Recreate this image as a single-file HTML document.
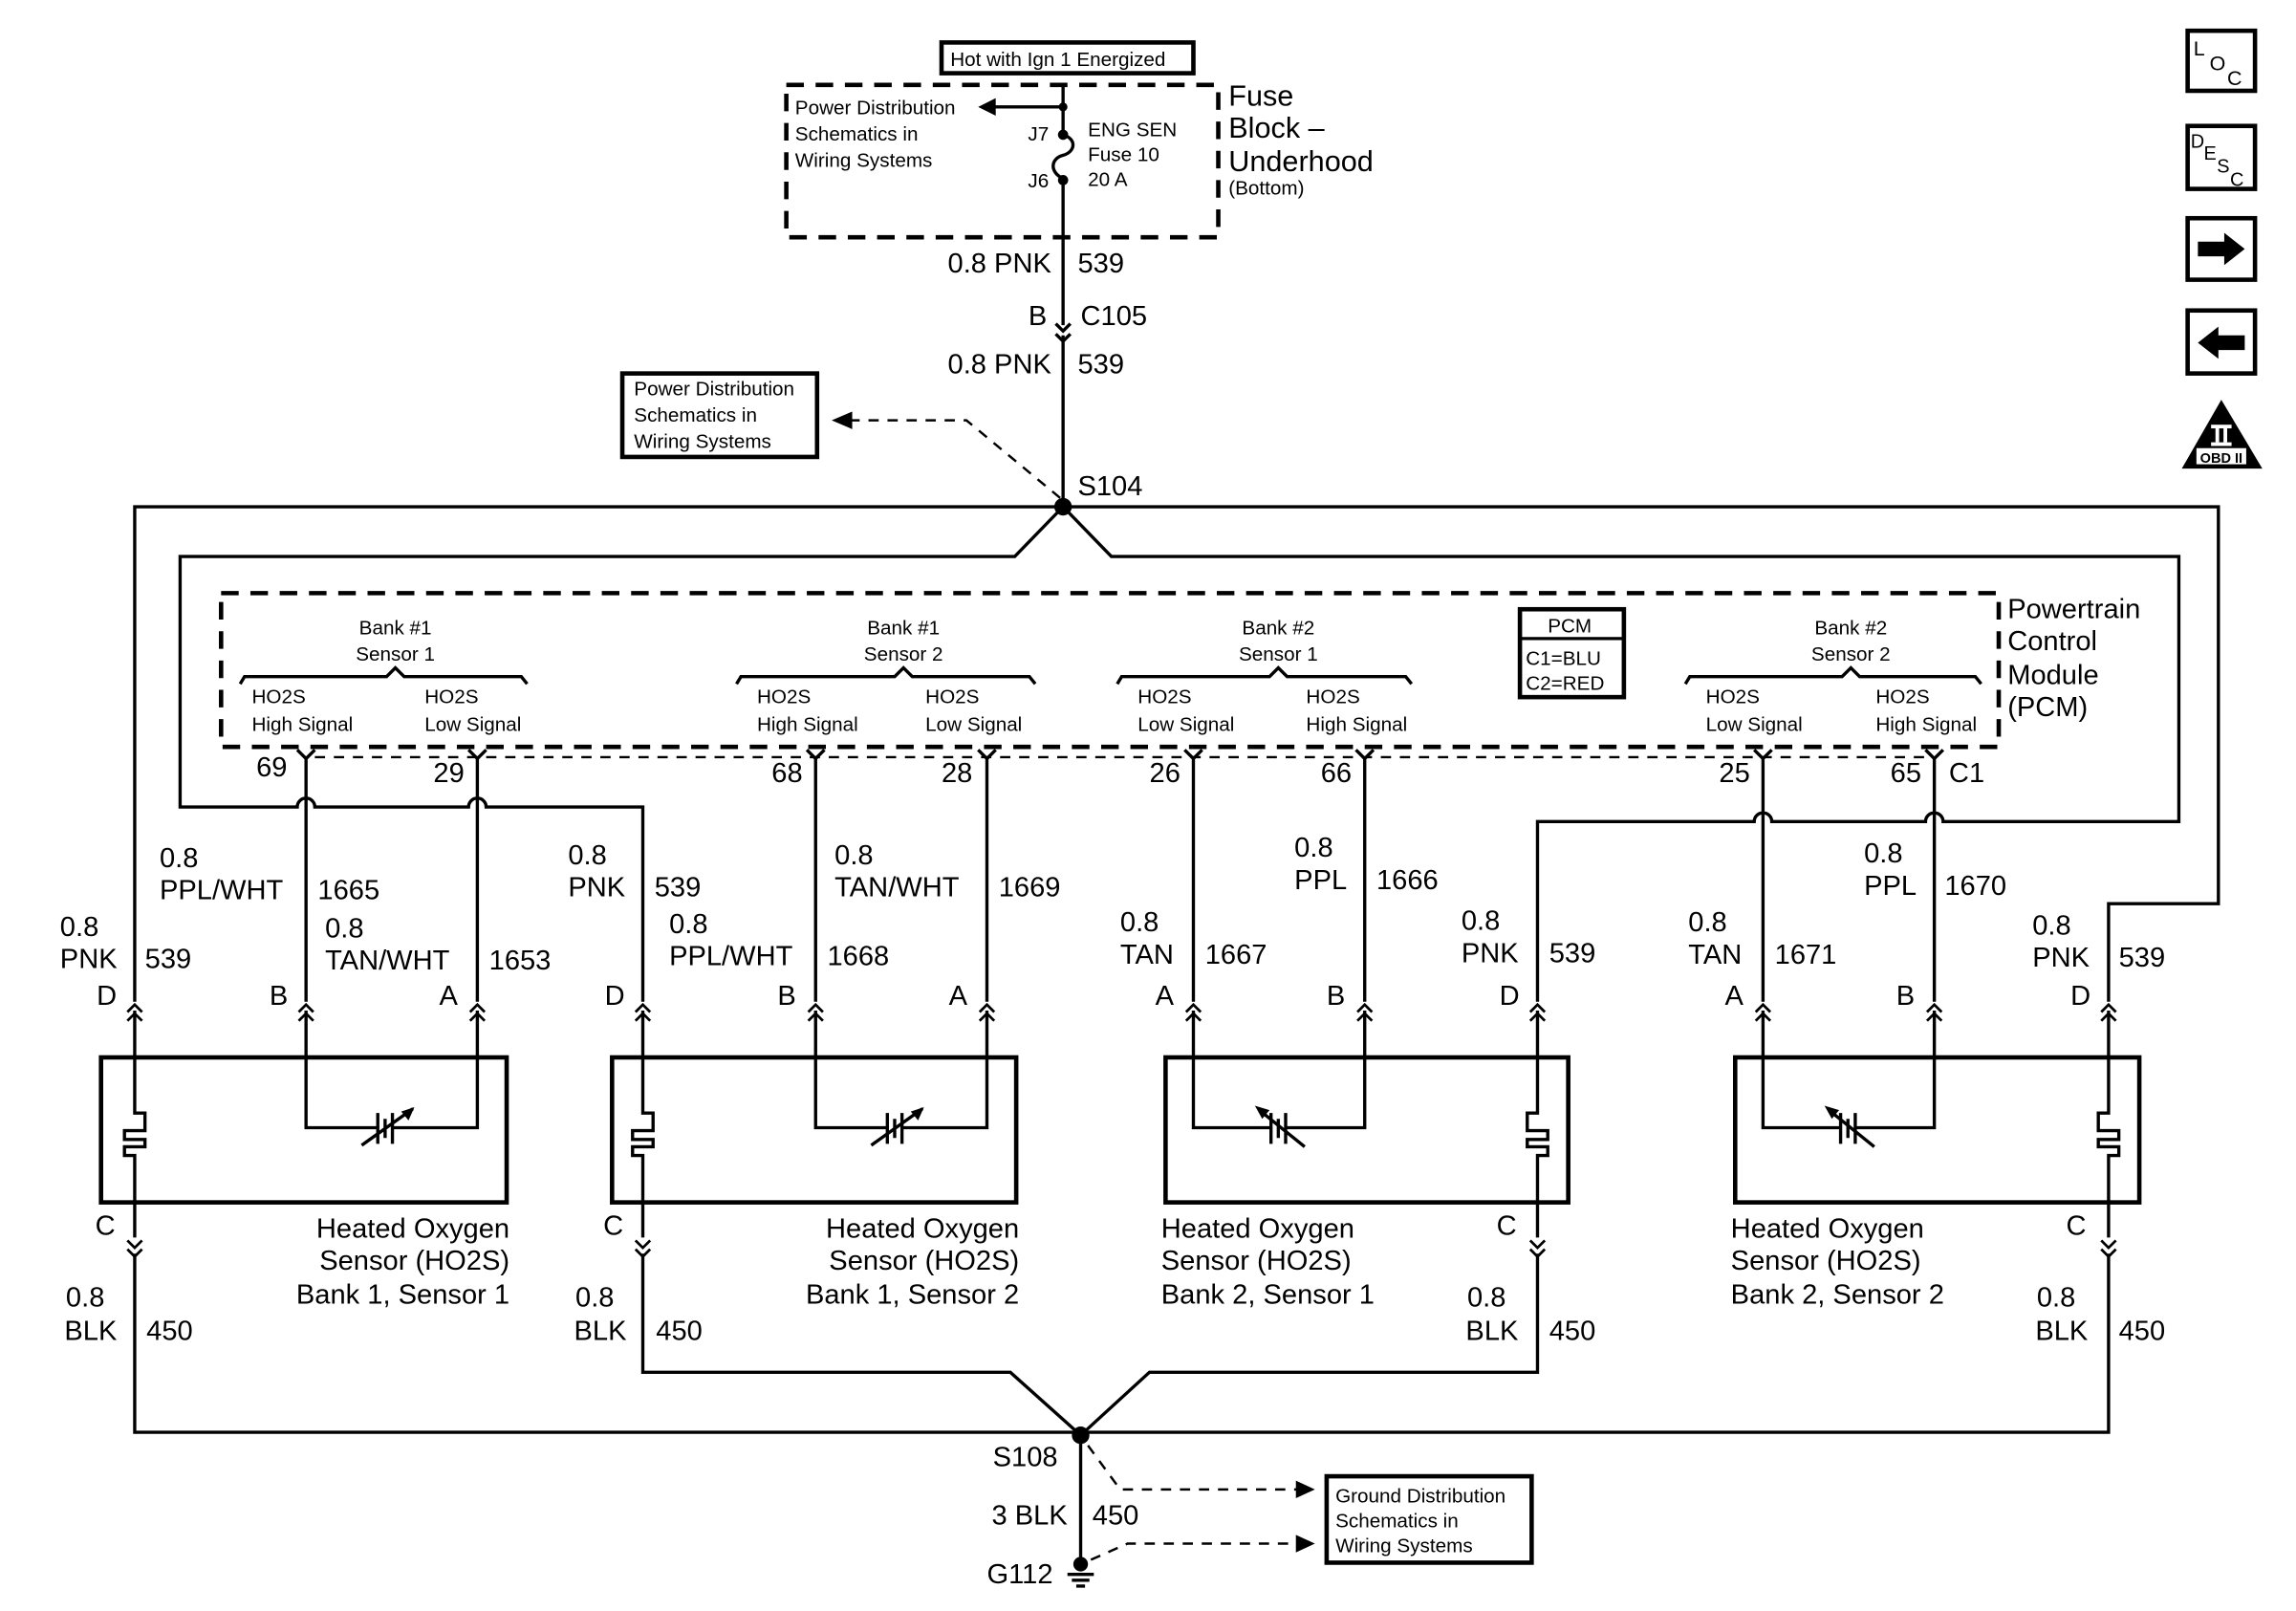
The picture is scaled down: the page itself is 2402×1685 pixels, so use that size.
<!DOCTYPE html>
<html><head><meta charset="utf-8"><style>
html,body{margin:0;padding:0;background:#fff;width:2402px;height:1685px;overflow:hidden}
svg{display:block}
text{font-family:"Liberation Sans",Arial,sans-serif;fill:#000}
.w{fill:none;stroke:#000;stroke-width:2.2}
.b{fill:none;stroke:#000;stroke-width:3}
.d{fill:none;stroke:#000;stroke-width:3;stroke-dasharray:12 8}
.dt{fill:none;stroke:#000;stroke-width:1.6;stroke-dasharray:7 6}
.l{font-size:19px}
.s{font-size:13.5px}
</style></head><body>
<svg width="2402" height="1685" viewBox="0 0 1568 1100" preserveAspectRatio="none" xmlns="http://www.w3.org/2000/svg">
<defs>
<symbol id="up" viewBox="-8 -2 16 20" width="16" height="20" overflow="visible"><path d="M-5,5 L0,0 L5,5 M-5,11 L0,6 L5,11" fill="none" stroke="#000" stroke-width="1.8"/></symbol>
<symbol id="dn" viewBox="-8 -2 16 20" width="16" height="20" overflow="visible"><path d="M-5,0 L0,5 L5,0 M-5,6 L0,11 L5,6" fill="none" stroke="#000" stroke-width="1.8"/></symbol>
</defs>

<!-- top -->
<rect x="643" y="29" width="172" height="21" class="b" stroke-width="2.5"/>
<text x="649" y="45" class="s">Hot with Ign 1 Energized</text>
<rect x="537" y="58" width="295" height="104" class="d"/>
<text x="543" y="78" class="s">Power Distribution</text>
<text x="543" y="96" class="s">Schematics in</text>
<text x="543" y="114" class="s">Wiring Systems</text>
<line x1="726" y1="73" x2="676" y2="73" class="w"/>
<path d="M668,73 L680,67 L680,79 Z"/>
<circle cx="726" cy="73" r="3"/>
<line x1="726" y1="57" x2="726" y2="92" class="w"/>
<circle cx="726" cy="92" r="3.5"/>
<path d="M726,92 C736,95 734,104 726,106 C718,108 716,117 726,122" class="w"/>
<circle cx="726" cy="123" r="3.5"/>
<line x1="726" y1="123" x2="726" y2="222" class="w"/>
<line x1="726" y1="229" x2="726" y2="346" class="w"/>
<path d="M721,221 L726,226 L731,221 M721,228 L726,233 L731,228" class="w" stroke-width="1.8"/>
<text x="702" y="96" class="s">J7</text>
<text x="702" y="128" class="s">J6</text>
<text x="743" y="93" class="s">ENG SEN</text>
<text x="743" y="110" class="s">Fuse 10</text>
<text x="743" y="127" class="s">20 A</text>
<text x="839" y="72" style="font-size:20px">Fuse</text>
<text x="839" y="94" style="font-size:20px">Block –</text>
<text x="839" y="117" style="font-size:20px">Underhood</text>
<text x="839" y="133" class="s">(Bottom)</text>
<text x="718" y="186" class="l" text-anchor="end">0.8 PNK</text>
<text x="736" y="186" class="l">539</text>
<text x="715" y="222" class="l" text-anchor="end">B</text>
<text x="738" y="222" class="l">C105</text>
<text x="718" y="255" class="l" text-anchor="end">0.8 PNK</text>
<text x="736" y="255" class="l">539</text>

<rect x="425" y="255" width="133" height="57" class="b" stroke-width="2.5"/>
<text x="433" y="270" class="s">Power Distribution</text>
<text x="433" y="288" class="s">Schematics in</text>
<text x="433" y="306" class="s">Wiring Systems</text>
<path d="M724,340 L660,287 L580,287" class="dt"/>
<path d="M568,287 L582,281 L582,293 Z"/>
<text x="736" y="338" class="l">S104</text>
<circle cx="726" cy="346" r="6"/>

<!-- outer loop -->
<path d="M92,684 L92,346 L1515,346 L1515,617 L1440,617 L1440,684" class="w"/>
<!-- inner loop -->
<path d="M439,684 L439,551 L332,551 A6,6 0 0 0 320,551 L215,551 A6,6 0 0 0 203,551 L123,551 L123,380 L693,380 L726,346 L759,380 L1488,380 L1488,561 L1327,561 A6,6 0 0 0 1315,561 L1210,561 A6,6 0 0 0 1198,561 L1050,561 L1050,684" class="w"/>

<!-- PCM -->
<rect x="151" y="405" width="1214" height="105" class="d"/>
<line x1="215" y1="517" x2="1318" y2="517" class="dt"/>
<text x="1371" y="422" class="l">Powertrain</text>
<text x="1371" y="444" class="l">Control</text>
<text x="1371" y="467" class="l">Module</text>
<text x="1371" y="489" class="l">(PCM)</text>
<rect x="1038" y="416" width="71" height="60" class="b" stroke-width="2.5"/>
<line x1="1038" y1="436" x2="1109" y2="436" class="w"/>
<text x="1057" y="432" class="s">PCM</text>
<text x="1042" y="454" class="s">C1=BLU</text>
<text x="1042" y="471" class="s">C2=RED</text>

<g class="s">
<text x="270" y="433" text-anchor="middle">Bank #1</text><text x="270" y="451" text-anchor="middle">Sensor 1</text>
<text x="617" y="433" text-anchor="middle">Bank #1</text><text x="617" y="451" text-anchor="middle">Sensor 2</text>
<text x="873" y="433" text-anchor="middle">Bank #2</text><text x="873" y="451" text-anchor="middle">Sensor 1</text>
<text x="1264" y="433" text-anchor="middle">Bank #2</text><text x="1264" y="451" text-anchor="middle">Sensor 2</text>
<text x="172" y="480">HO2S</text><text x="172" y="499">High Signal</text>
<text x="290" y="480">HO2S</text><text x="290" y="499">Low Signal</text>
<text x="517" y="480">HO2S</text><text x="517" y="499">High Signal</text>
<text x="632" y="480">HO2S</text><text x="632" y="499">Low Signal</text>
<text x="777" y="480">HO2S</text><text x="777" y="499">Low Signal</text>
<text x="892" y="480">HO2S</text><text x="892" y="499">High Signal</text>
<text x="1165" y="480">HO2S</text><text x="1165" y="499">Low Signal</text>
<text x="1281" y="480">HO2S</text><text x="1281" y="499">High Signal</text>
</g>
<path d="M164,467 L167,462 L264,462 L270,456 L276,462 L356,462 L360,467" class="w" stroke-width="1.5"/>
<path d="M503,467 L506,462 L611,462 L617,456 L623,462 L703,462 L707,467" class="w" stroke-width="1.5"/>
<path d="M763,467 L766,462 L867,462 L873,456 L879,462 L960,462 L964,467" class="w" stroke-width="1.5"/>
<path d="M1151,467 L1154,462 L1258,462 L1264,456 L1270,462 L1349,462 L1353,467" class="w" stroke-width="1.5"/>

<!-- pin wires -->
<g class="w">
<path d="M203,512 L209,518 L215,512 M209,518 L209,684"/>
<path d="M320,512 L326,518 L332,512 M326,518 L326,684"/>
<path d="M551,512 L557,518 L563,512 M557,518 L557,684"/>
<path d="M668,512 L674,518 L680,512 M674,518 L674,684"/>
<path d="M809,512 L815,518 L821,512 M815,518 L815,684"/>
<path d="M926,512 L932,518 L938,512 M932,518 L932,684"/>
<path d="M1198,512 L1204,518 L1210,512 M1204,518 L1204,684"/>
<path d="M1315,512 L1321,518 L1327,512 M1321,518 L1321,684"/>
</g>
<g class="l">
<text x="175" y="530">69</text><text x="296" y="534">29</text>
<text x="527" y="534">68</text><text x="643" y="534">28</text>
<text x="785" y="534">26</text><text x="902" y="534">66</text>
<text x="1174" y="534">25</text><text x="1291" y="534">65</text><text x="1331" y="534">C1</text>
</g>

<!-- top connectors -->
<g>
<use href="#up" x="84" y="684"/><use href="#up" x="201" y="684"/><use href="#up" x="318" y="684"/>
<use href="#up" x="431" y="684"/><use href="#up" x="549" y="684"/><use href="#up" x="666" y="684"/>
<use href="#up" x="807" y="684"/><use href="#up" x="924" y="684"/><use href="#up" x="1042" y="684"/>
<use href="#up" x="1196" y="684"/><use href="#up" x="1313" y="684"/><use href="#up" x="1432" y="684"/>
</g>

<!-- wire labels -->
<g class="l">
<text x="41" y="639">0.8</text><text x="41" y="661">PNK</text><text x="99" y="661">539</text><text x="66" y="686">D</text>
<text x="109" y="592">0.8</text><text x="109" y="614">PPL/WHT</text><text x="217" y="614">1665</text><text x="184" y="686">B</text>
<text x="222" y="640">0.8</text><text x="222" y="662">TAN/WHT</text><text x="334" y="662">1653</text><text x="300" y="686">A</text>
<text x="388" y="590">0.8</text><text x="388" y="612">PNK</text><text x="447" y="612">539</text><text x="413" y="686">D</text>
<text x="457" y="637">0.8</text><text x="457" y="659">PPL/WHT</text><text x="565" y="659">1668</text><text x="531" y="686">B</text>
<text x="570" y="590">0.8</text><text x="570" y="612">TAN/WHT</text><text x="682" y="612">1669</text><text x="648" y="686">A</text>
<text x="765" y="636">0.8</text><text x="765" y="658">TAN</text><text x="823" y="658">1667</text><text x="789" y="686">A</text>
<text x="884" y="585">0.8</text><text x="884" y="607">PPL</text><text x="940" y="607">1666</text><text x="906" y="686">B</text>
<text x="998" y="635">0.8</text><text x="998" y="657">PNK</text><text x="1058" y="657">539</text><text x="1024" y="686">D</text>
<text x="1153" y="636">0.8</text><text x="1153" y="658">TAN</text><text x="1212" y="658">1671</text><text x="1178" y="686">A</text>
<text x="1273" y="589">0.8</text><text x="1273" y="611">PPL</text><text x="1328" y="611">1670</text><text x="1295" y="686">B</text>
<text x="1388" y="638">0.8</text><text x="1388" y="660">PNK</text><text x="1447" y="660">539</text><text x="1414" y="686">D</text>
</g>

<!-- sensor boxes -->
<rect x="69" y="722" width="277" height="99" class="b"/>
<rect x="418" y="722" width="276" height="99" class="b"/>
<rect x="796" y="722" width="275" height="99" class="b"/>
<rect x="1185" y="722" width="276" height="99" class="b"/>

<!-- heaters -->
<g class="w">
<path d="M92,690 L92,760 L99,760 L99,772 L85,772 L85,778 L99,778 L99,783 L85,783 L85,789 L92,789 L92,845 M92,856 L92,937 L92,978 L738,978"/>
<path d="M439,690 L439,760 L446,760 L446,772 L432,772 L432,778 L446,778 L446,783 L432,783 L432,789 L439,789 L439,845 M439,856 L439,937 L690,937 L738,980"/>
<path d="M1050,690 L1050,760 L1043,760 L1043,772 L1057,772 L1057,778 L1043,778 L1043,783 L1057,783 L1057,789 L1050,789 L1050,845 M1050,856 L1050,937 L785,937 L738,980"/>
<path d="M1440,690 L1440,760 L1433,760 L1433,772 L1447,772 L1447,778 L1433,778 L1433,783 L1447,783 L1447,789 L1440,789 L1440,845 M1440,856 L1440,978 L738,978"/>
</g>
<use href="#dn" x="84" y="845"/><use href="#dn" x="431" y="845"/><use href="#dn" x="1042" y="845"/><use href="#dn" x="1432" y="845"/>

<!-- cells -->
<g class="w">
<path d="M209,690 L209,770 L258,770 M268,770 L326,770 L326,690 M258,760 L258,781 M263,764 L263,777 M268,760 L268,781 M247,782 L282,757"/>
<path d="M557,690 L557,770 L606,770 M616,770 L674,770 L674,690 M606,760 L606,781 M611,764 L611,777 M616,760 L616,781 M595,782 L630,757"/>
<path d="M815,690 L815,770 L868,770 M878,770 L932,770 L932,690 M868,760 L868,781 M873,764 L873,777 M878,760 L878,781 M860,758 L891,783"/>
<path d="M1204,690 L1204,770 L1257,770 M1267,770 L1321,770 L1321,690 M1257,760 L1257,781 M1262,764 L1262,777 M1267,760 L1267,781 M1249,758 L1280,783"/>
</g>
<path d="M283,756 L274,759 L279,765 Z"/><path d="M631,756 L622,759 L627,765 Z"/>
<path d="M857,755 L867,758 L862,764 Z"/><path d="M1246,755 L1256,758 L1251,764 Z"/>

<g class="l">
<text x="348" y="845" text-anchor="end">Heated Oxygen</text><text x="348" y="867" text-anchor="end">Sensor (HO2S)</text><text x="348" y="890" text-anchor="end">Bank 1, Sensor 1</text>
<text x="696" y="845" text-anchor="end">Heated Oxygen</text><text x="696" y="867" text-anchor="end">Sensor (HO2S)</text><text x="696" y="890" text-anchor="end">Bank 1, Sensor 2</text>
<text x="793" y="845">Heated Oxygen</text><text x="793" y="867">Sensor (HO2S)</text><text x="793" y="890">Bank 2, Sensor 1</text>
<text x="1182" y="845">Heated Oxygen</text><text x="1182" y="867">Sensor (HO2S)</text><text x="1182" y="890">Bank 2, Sensor 2</text>
<text x="65" y="843">C</text><text x="412" y="843">C</text><text x="1022" y="843">C</text><text x="1411" y="843">C</text>
<text x="45" y="892">0.8</text><text x="44" y="915">BLK</text><text x="100" y="915">450</text>
<text x="393" y="892">0.8</text><text x="392" y="915">BLK</text><text x="448" y="915">450</text>
<text x="1002" y="892">0.8</text><text x="1001" y="915">BLK</text><text x="1058" y="915">450</text>
<text x="1391" y="892">0.8</text><text x="1390" y="915">BLK</text><text x="1447" y="915">450</text>
<text x="678" y="1001">S108</text>
<text x="729" y="1041" text-anchor="end">3 BLK</text><text x="746" y="1041">450</text>
<text x="674" y="1081">G112</text>
</g>

<!-- ground -->
<circle cx="738" cy="980" r="6"/>
<line x1="738" y1="980" x2="738" y2="1070" class="w"/>
<circle cx="738" cy="1068" r="5"/>
<path d="M729,1075 L747,1075 M732,1079 L744,1079 M735,1083 L741,1083" class="w" stroke-width="1.6"/>
<path d="M743,987 L765,1017 L890,1017" class="dt"/>
<path d="M898,1017 L885,1011 L885,1023 Z"/>
<path d="M745,1065 L770,1054 L890,1054" class="dt"/>
<path d="M898,1054 L885,1048 L885,1060 Z"/>
<rect x="906" y="1008" width="140" height="59" class="b" stroke-width="2.5"/>
<text x="912" y="1026" class="s">Ground Distribution</text>
<text x="912" y="1043" class="s">Schematics in</text>
<text x="912" y="1060" class="s">Wiring Systems</text>

<!-- right icons -->
<rect x="1494" y="21" width="46" height="41" class="b"/>
<text x="1498" y="38" style="font-size:14px">L</text><text x="1509" y="48" style="font-size:14px">O</text><text x="1521" y="58" style="font-size:14px">C</text>
<rect x="1494" y="86" width="46" height="43" class="b"/>
<text x="1496" y="101" style="font-size:13px">D</text><text x="1505" y="109" style="font-size:13px">E</text><text x="1514" y="118" style="font-size:13px">S</text><text x="1523" y="127" style="font-size:13px">C</text>
<rect x="1494" y="149" width="46" height="42" class="b"/>
<path d="M1501,165 L1519,165 L1519,159 L1533,170 L1519,181 L1519,175 L1501,175 Z"/>
<rect x="1494" y="212" width="46" height="43" class="b"/>
<path d="M1533,229 L1515,229 L1515,223 L1501,234 L1515,245 L1515,239 L1533,239 Z"/>
<path d="M1517,273 L1545,320 L1490,320 Z"/>
<rect x="1510" y="290" width="14" height="2.5" fill="#fff"/><rect x="1510" y="302" width="14" height="2.5" fill="#fff"/>
<rect x="1513" y="292" width="2.5" height="10" fill="#fff"/><rect x="1518.5" y="292" width="2.5" height="10" fill="#fff"/>
<rect x="1500" y="306" width="34" height="11" fill="#fff"/>
<text x="1517" y="316" text-anchor="middle" style="font-size:9.5px;font-weight:bold">OBD II</text>
</svg>
</body></html>
